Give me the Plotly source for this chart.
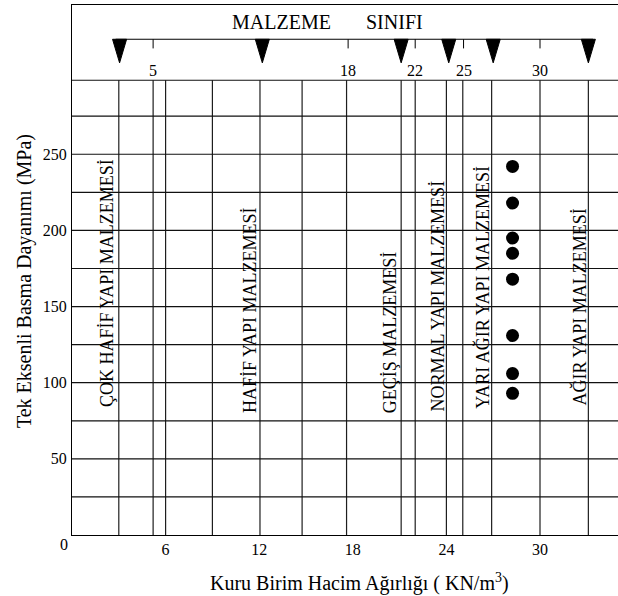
import plotly.graph_objects as go

# ---------------- data ----------------
x_ticks = [6, 12, 18, 24, 30]
y_ticks = [50, 100, 150, 200, 250]
y_tick_labels = ["50", "100", "150", "200", "250"]

# vertical boundary / grid lines (KN/m3)
grid_x = [3, 5.2, 6, 9, 12.05, 14.75, 17.6, 21.1, 22, 24, 25.05, 26.9, 30, 33.1]
# horizontal grid lines (MPa)
grid_y = [25, 50, 75, 100, 125, 150, 175, 200, 225, 250, 275]
header_bottom = 298.6

# "MALZEME SINIFI" scale
class_markers = [3.05, 12.2, 21.1, 24.15, 27.0, 33.1]
header_tick_pos = [5.2, 17.7, 22.0, 25.1, 30.0]
header_tick_labels = ["5", "18", "22", "25", "30"]

# material class labels (vertical text)
class_names = ["ÇOK HAFİF YAPI MALZEMESİ", "HAFİF YAPI MALZEMESİ", "GEÇİŞ MALZEMESİ",
               "NORMAL YAPI MALZEMESİ", "YARI AĞIR YAPI MALZEMESİ", "AĞIR YAPI MALZEMESİ"]
class_label_x = [2.25, 11.4, 20.4, 23.4, 26.3, 32.5]
class_label_y = [165.5, 147.7, 133.3, 156.6, 162.5, 149.4]

# measured samples
sample_density = [28.24, 28.24, 28.24, 28.24, 28.24, 28.24, 28.24, 28.24]
sample_strength = [242, 218, 195, 185, 168, 131, 106, 93]

FONT = "Liberation Serif"
X_MAX = 35
Y_MAX = 348
header_line_y = 325.5

fig = go.Figure()

# triangles of the class scale
tx, ty = [], []
half_w, tri_h = 0.45, 15.5
for b in class_markers:
    tx += [b - half_w, b + half_w, b, b - half_w, None]
    ty += [header_line_y, header_line_y, header_line_y - tri_h, header_line_y, None]
fig.add_trace(go.Scatter(x=tx, y=ty, mode="lines", fill="toself", fillcolor="black",
                         line=dict(color="black", width=1), hoverinfo="skip"))

# data points
fig.add_trace(go.Scatter(x=sample_density, y=sample_strength, mode="markers",
                         marker=dict(color="black", size=13)))

shapes = []
for gx in grid_x:
    shapes.append(dict(type="line", xref="x", yref="y", x0=gx, x1=gx, y0=0, y1=header_bottom,
                       line=dict(color="#1e1e1e", width=1.2)))
for gy in grid_y + [header_bottom]:
    shapes.append(dict(type="line", xref="x", yref="y", x0=0, x1=X_MAX, y0=gy, y1=gy,
                       line=dict(color="#111111", width=1.2)))
# header scale line
shapes.append(dict(type="line", xref="x", yref="y", x0=2.8, x1=33.4, y0=header_line_y, y1=header_line_y,
                   line=dict(color="black", width=1.2)))
for hp in header_tick_pos:
    shapes.append(dict(type="line", xref="x", yref="y", x0=hp, x1=hp, y0=header_line_y,
                       y1=header_line_y - 6, line=dict(color="black", width=1)))

annotations = []
for name, lx, ly in zip(class_names, class_label_x, class_label_y):
    annotations.append(dict(x=lx, y=ly, xref="x", yref="y", text=name, textangle=-90,
                            xanchor="center", yanchor="middle",
                            showarrow=False, font=dict(family=FONT, size=18, color="black")))
for hp, hl in zip(header_tick_pos, header_tick_labels):
    annotations.append(dict(x=hp, y=305.3, xref="x", yref="y", text=hl, showarrow=False,
                            xanchor="center", yanchor="middle",
                            font=dict(family=FONT, size=16, color="black")))
annotations.append(dict(x=13.46, y=336.8, xref="x", yref="y", text="MALZEME", showarrow=False,
                        xanchor="center", yanchor="middle",
                        font=dict(family=FONT, size=20, color="black")))
annotations.append(dict(x=20.65, y=336.8, xref="x", yref="y", text="SINIFI", showarrow=False,
                        xanchor="center", yanchor="middle",
                        font=dict(family=FONT, size=20, color="black")))
# axis titles
annotations.append(dict(x=0.527, y=-0.0887, xref="paper", yref="paper",
                        xanchor="center", yanchor="middle",
                        text="Kuru Birim Hacim Ağırlığı ( KN/m<sup>3</sup>)", showarrow=False,
                        font=dict(family=FONT, size=20, color="black")))
annotations.append(dict(x=-0.088, y=0.479, xref="paper", yref="paper",
                        xanchor="center", yanchor="middle",
                        text="Tek Eksenli Basma Dayanımı (MPa)", textangle=-90, showarrow=False,
                        font=dict(family=FONT, size=20, color="black")))
# origin label
annotations.append(dict(x=-0.0147, y=-0.017, xref="paper", yref="paper", text="0", showarrow=False,
                        xanchor="center", yanchor="middle",
                        font=dict(family=FONT, size=16, color="black")))

fig.update_layout(
    width=618, height=596,
    margin=dict(l=72, r=0, t=5, b=61),
    plot_bgcolor="white", paper_bgcolor="white",
    showlegend=False,
    shapes=shapes, annotations=annotations,
    xaxis=dict(range=[0, X_MAX], tickvals=x_ticks, ticks="", showgrid=False, zeroline=False,
               showline=True, linecolor="black", linewidth=1.3, mirror=True,
               ticklabelstandoff=0,
               tickfont=dict(family=FONT, size=16, color="black")),
    yaxis=dict(range=[0, Y_MAX], tickvals=y_ticks, ticktext=y_tick_labels, ticks="",
               showgrid=False, zeroline=False, showline=True, linecolor="black", linewidth=1.3,
               ticklabelstandoff=1,
               tickfont=dict(family=FONT, size=16, color="black")),
)

fig.write_html("out.html", config={"displayModeBar": False},
               post_script="document.body.style.margin='0';document.body.style.overflow='hidden';")
